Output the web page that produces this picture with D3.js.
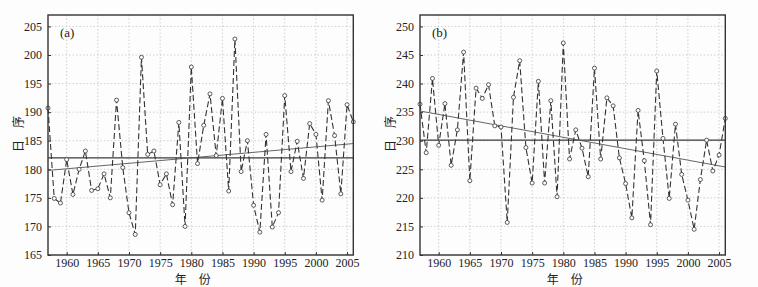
<!DOCTYPE html>
<html lang="zh">
<head>
<meta charset="UTF-8" />
<title>日序变化</title>
<script src="https://cdn.jsdelivr.net/npm/d3@7"></script>
<style>
  body { margin: 0; background: #fff; }
  svg { display: block; }
  .tick text { font-family: "Liberation Serif", "DejaVu Serif", serif; font-size: 12px; fill: #222; }
</style>
</head>
<body>
<script>
// 年份 1957-2006
var years = d3.range(1957, 2007);

// (a) 日序
var dayA = [190.7, 174.9, 174.1, 181.7, 175.6, 180.0, 183.2, 176.3, 176.6, 179.2,
            175.0, 192.1, 180.3, 172.4, 168.6, 199.6, 182.6, 183.2, 177.3, 179.2,
            173.8, 188.2, 170.0, 197.9, 181.0, 187.7, 193.2, 182.4, 192.4, 176.2,
            202.8, 179.6, 185.0, 173.7, 169.0, 186.1, 169.9, 172.4, 192.9, 179.6,
            184.9, 178.4, 188.0, 186.1, 174.6, 192.0, 185.9, 175.7, 191.3, 188.3];
// (b) 日序
var dayB = [236.4, 227.9, 240.9, 229.2, 236.5, 225.7, 231.9, 245.5, 223.0, 239.2,
            237.4, 239.8, 232.6, 232.4, 215.7, 237.6, 244.0, 228.8, 222.6, 240.4,
            222.6, 237.0, 220.2, 247.1, 226.8, 231.9, 228.7, 223.7, 242.7, 226.8,
            237.5, 236.1, 227.0, 222.5, 216.5, 235.3, 226.5, 215.3, 242.2, 230.4,
            219.9, 232.9, 224.1, 219.6, 214.5, 223.2, 230.1, 224.7, 227.5, 233.9];

var meanA = 182.0, meanB = 230.1;
var trendA = [179.8, 184.5], trendB = [235.2, 225.4];

var yTicksA = [165, 170, 175, 180, 185, 190, 195, 200, 205];
var yTicksB = [210, 215, 220, 225, 230, 235, 240, 245, 250];
var xTicks = [1960, 1965, 1970, 1975, 1980, 1985, 1990, 1995, 2000, 2005];

var W = 758, H = 287;
var svg = d3.select("body").append("svg").attr("width", W).attr("height", H);
svg.append("rect").attr("width", W).attr("height", H).attr("fill", "#fdfdfd");

function drawPanel(left, right, values, yDom, yTicks, mean, trend, label) {
  var top = 15, bottom = 255;
  var x = d3.scaleLinear().domain([1957, 2006]).range([left, right]);
  var y = d3.scaleLinear().domain(yDom).range([bottom, top]);
  var g = svg.append("g");

  // 网格
  g.selectAll(".hg").data(yTicks).enter().append("line")
    .attr("x1", left).attr("x2", right)
    .attr("y1", function(d){ return y(d); }).attr("y2", function(d){ return y(d); })
    .attr("stroke", "#c4c4c4").attr("stroke-width", 0.8).attr("stroke-dasharray", "1.5,2");
  g.selectAll(".vg").data(xTicks).enter().append("line")
    .attr("y1", top).attr("y2", bottom)
    .attr("x1", function(d){ return x(d); }).attr("x2", function(d){ return x(d); })
    .attr("stroke", "#c4c4c4").attr("stroke-width", 0.8).attr("stroke-dasharray", "1.5,2");

  // 坐标轴
  g.append("g").attr("transform", "translate(" + left + ",0)")
    .call(d3.axisLeft(y).tickValues(yTicks).tickSize(3).tickFormat(d3.format("d")))
    .call(function(a){ a.select(".domain").remove(); a.selectAll("line").attr("stroke", "#333").attr("transform", "translate(3,0)"); });
  g.append("g").attr("transform", "translate(0," + bottom + ")")
    .call(d3.axisBottom(x).tickValues(xTicks).tickSize(3).tickFormat(d3.format("d")))
    .call(function(a){ a.select(".domain").remove(); a.selectAll("line").attr("stroke", "#333").attr("transform", "translate(0,-3)"); a.selectAll("text").attr("y", 3).attr("dy", "0.71em"); });

  // 均值线
  g.append("line").attr("x1", left).attr("x2", right)
    .attr("y1", y(mean)).attr("y2", y(mean))
    .attr("stroke", "#3a3a3a").attr("stroke-width", 1.4);
  // 趋势线
  g.append("line").attr("x1", x(1957)).attr("x2", x(2006))
    .attr("y1", y(trend[0])).attr("y2", y(trend[1]))
    .attr("stroke", "#555").attr("stroke-width", 0.9);

  // 数据线
  var line = d3.line().x(function(d, i){ return x(years[i]); }).y(function(d){ return y(d); });
  g.append("path").datum(values).attr("d", line)
    .attr("fill", "none").attr("stroke", "#333").attr("stroke-width", 1.1)
    .attr("stroke-dasharray", "6,3");
  g.selectAll(".pt").data(values).enter().append("circle")
    .attr("cx", function(d, i){ return x(years[i]); })
    .attr("cy", function(d){ return y(d); })
    .attr("r", 2).attr("fill", "#fff").attr("stroke", "#333").attr("stroke-width", 0.8);

  // 边框
  g.append("rect").attr("x", left).attr("y", top)
    .attr("width", right - left).attr("height", bottom - top)
    .attr("fill", "none").attr("stroke", "#333").attr("stroke-width", 1.4);

  g.append("text").attr("x", left + 12).attr("y", top + 22)
    .attr("font-family", "Liberation Serif, serif").attr("font-size", 13).attr("fill", "#222")
    .text(label);

  // 轴标题
  var cx = left - 29;
  g.append("text").attr("transform", "translate(" + cx + ",134) rotate(-90)")
    .attr("text-anchor", "middle").attr("dy", "0.35em")
    .attr("font-family", "Noto Sans CJK SC").attr("font-size", 12).attr("fill", "#222")
    .text("日\u3000序");
  g.append("text").attr("x", (left + right) / 2 - 8).attr("y", 284)
    .attr("text-anchor", "middle")
    .attr("font-family", "Noto Sans CJK SC").attr("font-size", 12).attr("fill", "#222")
    .text("年\u3000份");
}

drawPanel(48, 353.3, dayA, [165, 207], yTicksA, meanA, trendA, "(a)");
drawPanel(420, 725.3, dayB, [210, 252], yTicksB, meanB, trendB, "(b)");
</script>
</body>
</html>
